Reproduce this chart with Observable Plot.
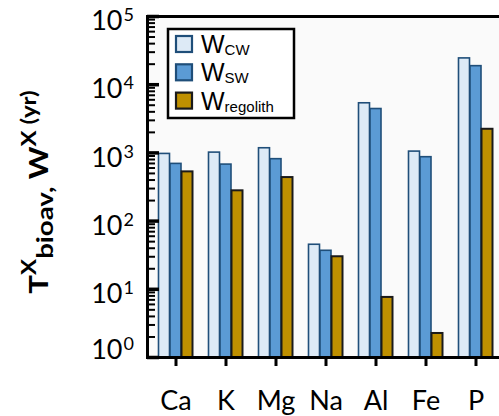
<!DOCTYPE html>
<html><head><meta charset="utf-8">
<script src="https://cdn.jsdelivr.net/npm/d3@7"></script>
<script src="https://cdn.jsdelivr.net/npm/@observablehq/plot@0.6"></script>
<style>
html,body{margin:0;padding:0;background:#fff;}
#wrap{width:499px;height:416px;overflow:hidden;position:relative;}
</style></head><body><div id="wrap"></div>
<script>
// ---- data ----
const elements = ["Ca","K","Mg","Na","Al","Fe","P"];
const wCW = [966, 1010, 1170, 45, 5340, 1045, 24300];
const wSW = [690, 674, 809, 36.7, 4400, 865, 18700];
const wRegolith = [527, 278, 435, 30, 7.6, 2.25, 2220];
const seriesNames = ["CW","SW","regolith"];
const decades = [1, 10, 100, 1000, 10000, 100000];
const decadeExponents = ["0","1","2","3","4","5"];

// ---- styles ----
const seriesFill = ["#ddeaf6","#5b9bd5","#bf9000"];
const seriesStroke = ["#1f4e79","#1f4e79","#1a1a1a"];
const seriesStrokeWidth = [1.6, 1.6, 2];
const seriesValues = [wCW, wSW, wRegolith];
const barOffset = [-11.5, 0, 11.5];

const minor = [];
for (let e = 0; e < 5; e++) for (let m = 2; m <= 9; m++) minor.push(m * 10 ** e);

const barMarks = seriesValues.map((vals, s) =>
  Plot.barY(elements.map((el, i) => ({el, v: vals[i]})), {
    x: "el", y1: 1, y2: "v",
    fill: seriesFill[s], stroke: seriesStroke[s], strokeWidth: seriesStrokeWidth[s],
    dx: barOffset[s]
  })
);

const expOf = new Map(decades.map((d, i) => [d, decadeExponents[i]]));
const tickFont = "Lato, 'Open Sans', sans-serif";

const chart = Plot.plot({
  width: 504, height: 416,
  marginLeft: 147, marginRight: 0, marginTop: 16, marginBottom: 59,
  style: {maxWidth: "none", background: "white", fontFamily: tickFont, color: "#000"},
  x: {type: "band", domain: elements, paddingInner: 0.774, paddingOuter: 0.399},
  y: {type: "log", domain: [1, 1e5]},
  marks: [
    Plot.frame({fill: "#fafafa", stroke: null}),
    ...barMarks,
    Plot.axisY(minor, {tickSize: -8, strokeWidth: 2, fill: "none", label: null}),
    Plot.axisY(decades, {tickSize: -12, strokeWidth: 3.5, fill: "none", label: null}),
    Plot.text(decades.filter(d => d > 1), {y: d => d, text: () => "10", frameAnchor: "left", textAnchor: "end", dx: -25, dy: 5, fontSize: 27, fontFamily: tickFont}),
    Plot.text(decades.filter(d => d > 1), {y: d => d, text: d => expOf.get(d), frameAnchor: "left", textAnchor: "start", dx: -24, dy: -1, fontSize: 18, fontFamily: tickFont}),
    Plot.text([1], {y: d => d, text: () => "10", frameAnchor: "left", textAnchor: "end", dx: -25, dy: -7, fontSize: 27, fontFamily: tickFont}),
    Plot.text([1], {y: d => d, text: d => expOf.get(d), frameAnchor: "left", textAnchor: "start", dx: -24, dy: -13, fontSize: 18, fontFamily: tickFont}),
    Plot.axisX({tickSize: 9, strokeWidth: 3, tickPadding: 24, fontSize: 27, fontFamily: tickFont, label: null}),
    Plot.frame({stroke: "#000", strokeWidth: 3})
  ]
});
document.getElementById("wrap").appendChild(chart);

// ---- y-axis title (rotated, with super/subscripts) ----
const svg = d3.select(chart);
const title = svg.append("text")
  .attr("transform", "translate(48,192) rotate(-90) scale(1.2,1)")
  .attr("text-anchor", "middle")
  .attr("font-family", tickFont)
  .attr("font-weight", "bold")
  .attr("font-size", 26)
  .attr("fill", "#000");
title.append("tspan").text("T");
title.append("tspan").attr("font-size", 20).attr("dy", -12).text("X");
title.append("tspan").attr("font-size", 23).attr("dy", 17).text("bioav,");
title.append("tspan").attr("dy", -5).text(" W");
title.append("tspan").attr("font-size", 20).attr("dy", -12).text("X (yr)");

// ---- legend ----
const legendFont = "'Liberation Sans', Arial, sans-serif";
const lg = svg.append("g").attr("text-anchor", "start");
lg.append("rect").attr("x", 168).attr("y", 29).attr("width", 126).attr("height", 89)
  .attr("fill", "#fff").attr("stroke", "#000").attr("stroke-width", 2.5);
seriesNames.forEach((name, s) => {
  const cy = 44 + s * 28.3;
  lg.append("rect").attr("x", 176).attr("y", cy - 8).attr("width", 16).attr("height", 16)
    .attr("fill", seriesFill[s]).attr("stroke", s === 2 ? "#1a1a1a" : "#1f4e79").attr("stroke-width", 2.2);
  const t = lg.append("text").attr("x", 201).attr("y", cy + 9).attr("text-anchor", "start")
    .attr("font-family", legendFont).attr("font-size", 25).attr("fill", "#000");
  t.append("tspan").text("W");
  t.append("tspan").attr("font-size", 15).attr("dy", 2).text(name);
});
</script></body></html>
